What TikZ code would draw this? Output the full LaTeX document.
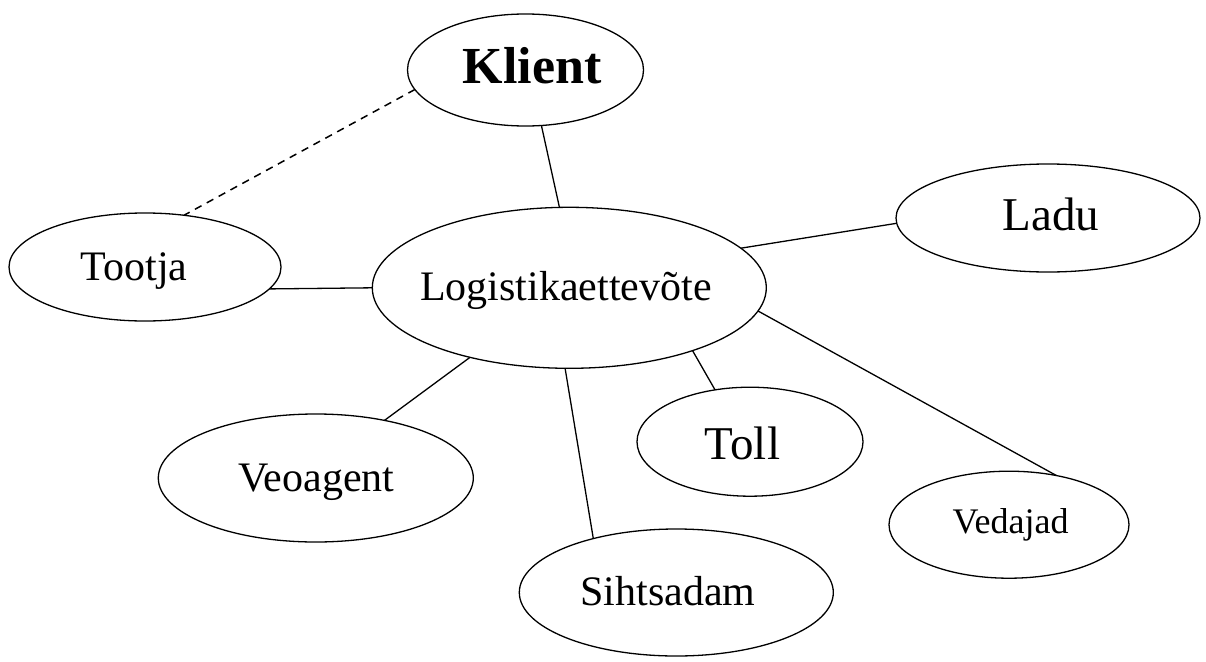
\documentclass[tikz,border=0pt]{standalone}
\usepackage{fontspec}
\setmainfont{Liberation Serif}
\usetikzlibrary{shapes.geometric}
\begin{document}
\begin{tikzpicture}[x=1pt,y=-1pt,
  ent/.style={draw, ellipse, line width=1.3pt, inner sep=0pt, outer sep=0pt},
  lbl/.style={anchor=base, inner sep=0pt, font=\fontsize{42}{50}\selectfont},
  link/.style={line width=1.3pt},
  weak/.style={line width=1.5pt, dash pattern=on 7.5pt off 6pt}]
\useasboundingbox (0,0) rectangle (1206,661);

% parties (ellipses)
\node[ent, minimum width=236pt, minimum height=112pt] (klient) at (525.5,70) {};
\node[ent, minimum width=272pt, minimum height=108pt] (tootja) at (145,267) {};
\node[ent, minimum width=394pt, minimum height=161pt] (logistika) at (569.3,287.8) {};
\node[ent, minimum width=304pt, minimum height=108pt] (ladu) at (1048,218) {};
\node[ent, minimum width=315pt, minimum height=128pt] (veoagent) at (315.8,478) {};
\node[ent, minimum width=226pt, minimum height=109pt] (toll) at (750,441.7) {};
\node[ent, minimum width=314pt, minimum height=127pt] (sihtsadam) at (676.3,592.5) {};
\node[ent, minimum width=240pt, minimum height=107pt] (vedajad) at (1009,524.7) {};

% labels
\node[lbl, font=\fontsize{52}{60}\selectfont\bfseries] (klient-t) at (532.2,83) {Klient};
\node[lbl] (tootja-t) at (134,280) {Tootja};
\node[lbl] (logistika-t) at (565.8,300.7) {Logistikaettevõte};
\node[lbl, font=\fontsize{47}{55}\selectfont] (ladu-t) at (1051,230) {Ladu};
\node[lbl] (veoagent-t) at (316.3,491.7) {Veoagent};
\node[lbl, font=\fontsize{47}{55}\selectfont] (toll-t) at (742.5,459.3) {Toll};
\node[lbl] (sihtsadam-t) at (668,605) {Sihtsadam};
\node[lbl, font=\fontsize{36}{42}\selectfont] (vedajad-t) at (1010.5,533.3) {Vedajad};

% connections
\draw[weak] (klient.190) -- (tootja.53.5);
\draw[link] (klient.286.8) -- (logistika.97.6);
\draw[link] (tootja.350.3) -- (logistika.180);
\draw[link] (logistika.13.35) -- (ladu.182.3);
\draw[link] (logistika.353.8) -- (vedajad.46.2);
\draw[link] (logistika.333.1) -- (toll.124.1);
\draw[link] (logistika.267.5) -- (sihtsadam.147);
\draw[link] (logistika.215.8) -- (veoagent.40.85);
\end{tikzpicture}
\end{document}
